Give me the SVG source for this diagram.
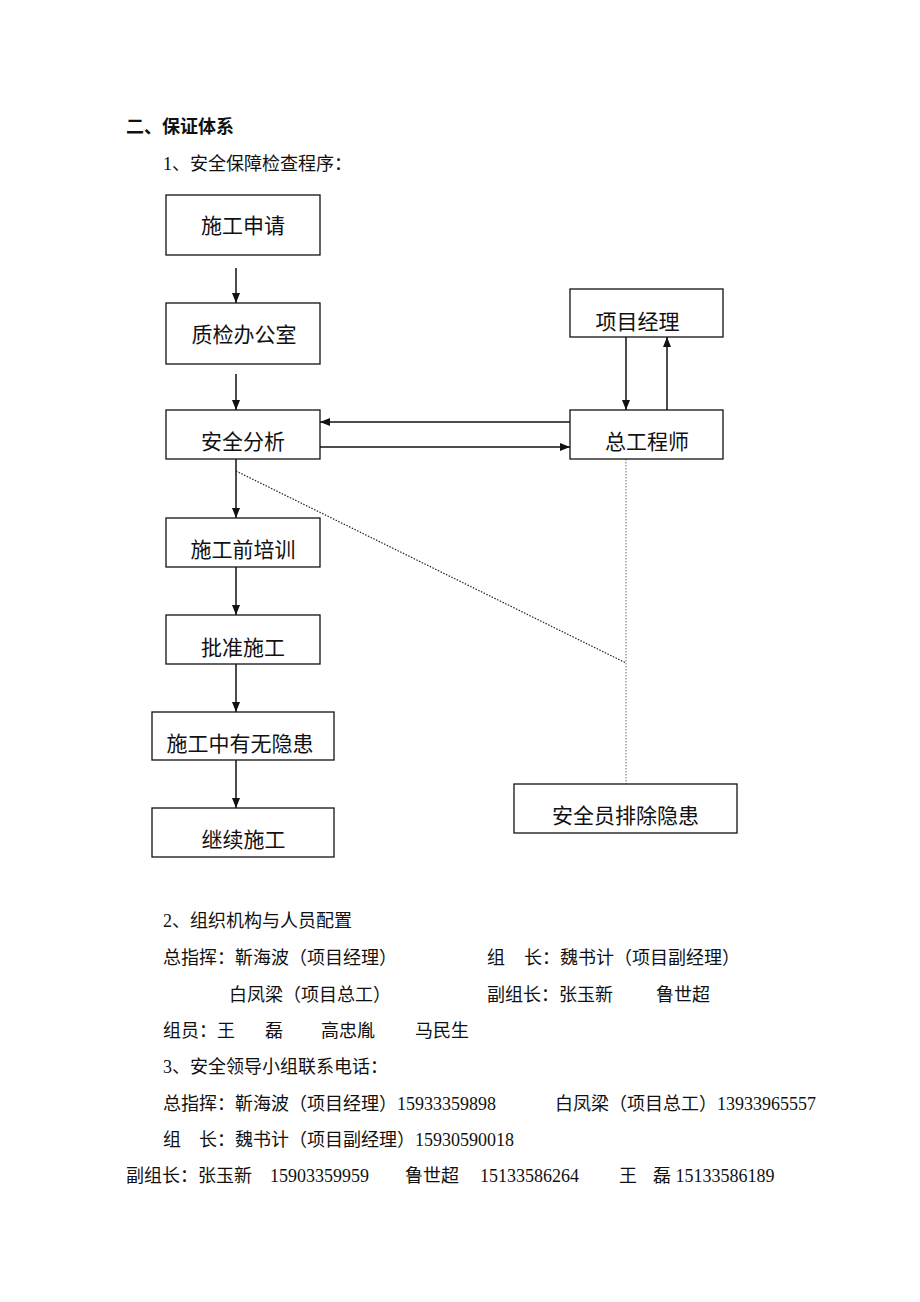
<svg xmlns="http://www.w3.org/2000/svg" width="920" height="1302" viewBox="0 0 920 1302">
<style>
  text { font-family: "Liberation Serif", "Noto Sans CJK SC", serif; fill: #111; }
  .body { font-size: 18px; }
  .head { font-size: 18px; font-weight: bold; }
  .lbl { font-size: 21px; text-anchor: middle; }
  .box { fill: #fff; stroke: #111; stroke-width: 1.3; }
  .conn { stroke: #111; stroke-width: 1.5; fill: none; marker-end: url(#arr); }
  .dot { stroke: #222; stroke-width: 1.2; fill: none; stroke-dasharray: 1.5 1.5; }
  .dotg { stroke: #888; stroke-width: 1.2; fill: none; stroke-dasharray: 1.5 1.5; }
</style>
<defs>
  <marker id="arr" markerUnits="userSpaceOnUse" markerWidth="10" markerHeight="8" refX="10" refY="4" orient="auto">
    <path d="M0,0 L10,4 L0,8 z" fill="#111"/>
  </marker>
</defs>
<rect width="920" height="1302" fill="#fff"/>

<text class="head" x="126" y="133">二、保证体系</text>
<text class="body" x="163" y="169.5">1、安全保障检查程序：</text>

<g id="connectors">
  <line class="conn" x1="236" y1="268" x2="236" y2="303"/>
  <line class="conn" x1="236" y1="374" x2="236" y2="410"/>
  <line class="conn" x1="236" y1="459" x2="236" y2="518"/>
  <line class="conn" x1="236" y1="567" x2="236" y2="615"/>
  <line class="conn" x1="236" y1="664" x2="236" y2="712"/>
  <line class="conn" x1="236" y1="760" x2="236" y2="808"/>
  <line class="conn" x1="570" y1="422" x2="320" y2="422"/>
  <line class="conn" x1="320" y1="447" x2="570" y2="447"/>
  <line class="conn" x1="626" y1="337" x2="626" y2="410"/>
  <line class="conn" x1="667" y1="410" x2="667" y2="337"/>
  <line class="dotg" x1="626" y1="459" x2="626" y2="784"/>
  <line class="dot" x1="236" y1="471" x2="626" y2="663"/>
</g>

<g id="n1"><rect class="box" x="166" y="195" width="154" height="60"/><text class="lbl" x="243" y="232.5">施工申请</text></g>
<g id="n2"><rect class="box" x="166" y="303" width="154" height="61"/><text class="lbl" x="244" y="341.5">质检办公室</text></g>
<g id="n3"><rect class="box" x="166" y="410" width="154" height="49"/><text class="lbl" x="243" y="449">安全分析</text></g>
<g id="n4"><rect class="box" x="570" y="289" width="153" height="48"/><text class="lbl" x="637.5" y="328.5">项目经理</text></g>
<g id="n5"><rect class="box" x="570" y="410" width="153" height="49"/><text class="lbl" x="647" y="448.5">总工程师</text></g>
<g id="n6"><rect class="box" x="166" y="518" width="154" height="49"/><text class="lbl" x="243" y="557">施工前培训</text></g>
<g id="n7"><rect class="box" x="166" y="615" width="154" height="49"/><text class="lbl" x="243" y="654.5">批准施工</text></g>
<g id="n8"><rect class="box" x="152" y="712" width="182" height="48"/><text class="lbl" x="240" y="750.5">施工中有无隐患</text></g>
<g id="n9"><rect class="box" x="152" y="808" width="182" height="49"/><text class="lbl" x="243.5" y="846.5">继续施工</text></g>
<g id="n10"><rect class="box" x="514" y="784" width="223" height="49"/><text class="lbl" x="625.5" y="822.5">安全员排除隐患</text></g>

<g id="text-block">
  <text class="body" x="163" y="927">2、组织机构与人员配置</text>
  <text class="body" x="163" y="964">总指挥：靳海波（项目经理）</text>
  <text class="body" y="964"><tspan x="487">组</tspan><tspan x="524">长：魏书计（项目副经理）</tspan></text>
  <text class="body" x="229" y="1001">白凤梁（项目总工）</text>
  <text class="body" y="1001"><tspan x="487">副组长：张玉新</tspan><tspan x="656">鲁世超</tspan></text>
  <text class="body" y="1037"><tspan x="163">组员：王</tspan><tspan x="265">磊</tspan><tspan x="321">高忠胤</tspan><tspan x="415">马民生</tspan></text>
  <text class="body" x="163" y="1073">3、安全领导小组联系电话：</text>
  <text class="body" x="163" y="1110">总指挥：靳海波（项目经理）15933359898</text>
  <text class="body" x="555" y="1110">白凤梁（项目总工）13933965557</text>
  <text class="body" x="163" y="1146">组　长：魏书计（项目副经理）15930590018</text>
  <text class="body" y="1182"><tspan x="126">副组长：张玉新</tspan><tspan x="270">15903359959</tspan><tspan x="405">鲁世超</tspan><tspan x="480">15133586264</tspan><tspan x="619">王</tspan><tspan x="653">磊 15133586189</tspan></text>
</g>
</svg>
